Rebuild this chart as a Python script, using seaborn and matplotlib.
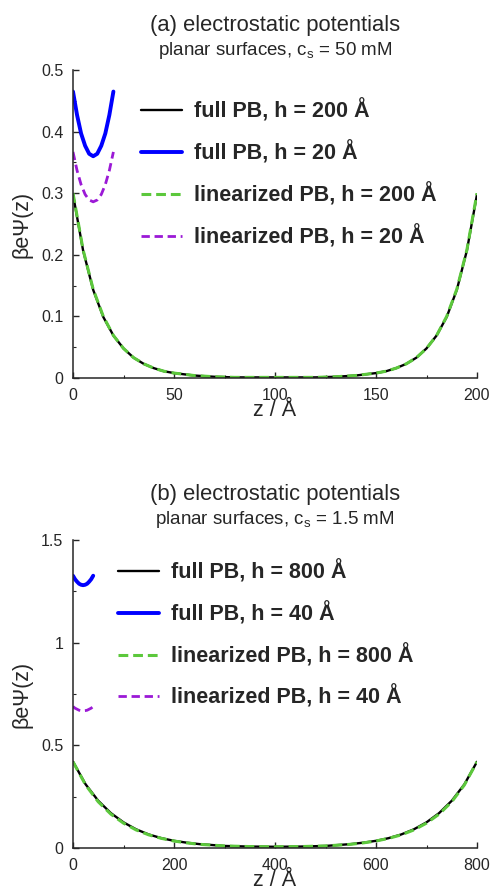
import numpy as np
import pandas as pd
import matplotlib
matplotlib.use("Agg")
import matplotlib.pyplot as plt
import seaborn as sns

# (a) 50 mM
z_a200 = [0, 5, 10, 15, 20, 25, 30, 35, 40, 45, 50, 60, 70, 80, 90, 100,
          110, 120, 130, 140, 150, 155, 160, 165, 170, 175, 180, 185, 190, 195, 200]
full_a200 = [0.298, 0.207, 0.143, 0.099, 0.069, 0.048, 0.033, 0.023, 0.016, 0.011, 0.008,
             0.004, 0.002, 0.001, 0.001, 0.001, 0.001, 0.001, 0.002, 0.004, 0.008,
             0.011, 0.016, 0.023, 0.033, 0.048, 0.069, 0.099, 0.143, 0.207, 0.298]
lin_a200 = [0.300, 0.208, 0.144, 0.100, 0.069, 0.048, 0.033, 0.023, 0.016, 0.011, 0.008,
            0.004, 0.002, 0.001, 0.001, 0.001, 0.001, 0.001, 0.002, 0.004, 0.008,
            0.011, 0.016, 0.023, 0.033, 0.048, 0.069, 0.100, 0.144, 0.208, 0.300]
z_a20 = [0, 2, 4, 6, 8, 10, 12, 14, 16, 18, 20]
full_a20 = [0.465, 0.427, 0.397, 0.377, 0.364, 0.360, 0.364, 0.377, 0.397, 0.427, 0.465]
lin_a20 = [0.367, 0.337, 0.314, 0.298, 0.289, 0.286, 0.289, 0.298, 0.314, 0.337, 0.367]

# (b) 1.5 mM
z_b800 = [0, 25, 50, 75, 100, 125, 150, 175, 200, 225, 250, 300, 350, 400,
          450, 500, 550, 575, 600, 625, 650, 675, 700, 725, 750, 775, 800]
full_b800 = [0.420, 0.310, 0.230, 0.170, 0.125, 0.091, 0.066, 0.048, 0.035, 0.026, 0.019,
             0.010, 0.007, 0.006, 0.007, 0.010, 0.019, 0.026, 0.035, 0.048, 0.066,
             0.091, 0.125, 0.170, 0.230, 0.310, 0.420]
lin_b800 = [0.420, 0.307, 0.225, 0.165, 0.121, 0.088, 0.064, 0.047, 0.034, 0.025, 0.018,
            0.010, 0.007, 0.006, 0.007, 0.010, 0.018, 0.025, 0.034, 0.047, 0.064,
            0.088, 0.121, 0.165, 0.225, 0.307, 0.420]
z_b40 = [0, 4, 8, 12, 16, 20, 24, 28, 32, 36, 40]
full_b40 = [1.326, 1.309, 1.297, 1.287, 1.282, 1.280, 1.282, 1.287, 1.297, 1.309, 1.326]
lin_b40 = [0.689, 0.681, 0.676, 0.671, 0.669, 0.668, 0.669, 0.671, 0.676, 0.681, 0.689]

sns.set_style("ticks")
plt.rcParams["font.family"] = ["Liberation Sans", "DejaVu Sans"]

fig = plt.figure(figsize=(4.92, 8.88), dpi=100)
ax1 = fig.add_axes([73 / 492, 1 - 378 / 888, 404 / 492, 308 / 888])
ax2 = fig.add_axes([73 / 492, 1 - 848 / 888, 404 / 492, 308 / 888])

green = "#5cc83c"
purple = "#9b19d6"
leg_font = {"weight": "bold", "size": 15.5}


def draw(ax, z_big, full_big, lin_big, z_small, full_small, lin_small, hb, hs):
    sns.lineplot(x=z_big, y=full_big, ax=ax, color="black", lw=1.7, sort=False,
                 label="full PB, h = %d Å" % hb)
    sns.lineplot(x=z_small, y=full_small, ax=ax, color="#0000ff", lw=2.8, sort=False,
                 label="full PB, h = %d Å" % hs)
    sns.lineplot(x=z_big, y=lin_big, ax=ax, color=green, lw=2.2, sort=False,
                 linestyle=(0, (3.2, 1.6)),
                 label="linearized PB, h = %d Å" % hb)
    sns.lineplot(x=z_small, y=lin_small, ax=ax, color=purple, lw=2.0, sort=False,
                 linestyle=(0, (3.0, 1.7)),
                 label="linearized PB, h = %d Å" % hs)
    sns.despine(ax=ax)
    for s in ["left", "bottom"]:
        ax.spines[s].set_linewidth(1.1)
    ax.tick_params(which="major", direction="in", length=4, width=1, labelsize=11.5, pad=7)
    ax.tick_params(which="minor", direction="in", length=2.5, width=0.8)
    ax.set_ylabel("βeΨ(z)", fontsize=15.5, labelpad=6)
    ax.set_xlabel("z / Å", fontsize=15.5, labelpad=-2)


# panel a
draw(ax1, z_a200, full_a200, lin_a200, z_a20, full_a20, lin_a20, 200, 20)
ax1.set_xlim(0, 200)
ax1.set_ylim(0, 0.5)
ax1.set_xticks([0, 50, 100, 150, 200])
ax1.set_xticks([25, 75, 125, 175], minor=True)
ax1.set_yticks([0, 0.1, 0.2, 0.3, 0.4, 0.5])
ax1.set_yticklabels(["0", "0.1", "0.2", "0.3", "0.4", "0.5"])
ax1.set_yticks(np.arange(0.05, 0.5, 0.1), minor=True)
ax1.legend(loc="upper left", bbox_to_anchor=(0.168, 0.905), frameon=False,
           prop=leg_font, handlelength=1.9,
           handletextpad=0.55, labelspacing=0.85, borderpad=0, borderaxespad=0)
ax1.text(0.5, 1 + 45 / 308, "(a) electrostatic potentials", transform=ax1.transAxes,
         ha="center", va="center", fontsize=15.8)
ax1.text(0.5, 1 + 19 / 308, "planar surfaces, c$_\\mathregular{s}$ = 50 mM",
         transform=ax1.transAxes, ha="center", va="center", fontsize=13.5)

# panel b
draw(ax2, z_b800, full_b800, lin_b800, z_b40, full_b40, lin_b40, 800, 40)
ax2.set_xlim(0, 800)
ax2.set_ylim(0, 1.5)
ax2.set_xticks([0, 200, 400, 600, 800])
ax2.set_xticks([100, 300, 500, 700], minor=True)
ax2.set_yticks([0, 0.5, 1, 1.5])
ax2.set_yticklabels(["0", "0.5", "1", "1.5"])
ax2.set_yticks([0.25, 0.75, 1.25], minor=True)
ax2.legend(loc="upper left", bbox_to_anchor=(0.111, 0.935), frameon=False,
           prop=leg_font, handlelength=1.9,
           handletextpad=0.55, labelspacing=0.85, borderpad=0, borderaxespad=0)
ax2.text(0.5, 1 + 46 / 308, "(b) electrostatic potentials", transform=ax2.transAxes,
         ha="center", va="center", fontsize=15.8)
ax2.text(0.5, 1 + 20 / 308, "planar surfaces, c$_\\mathregular{s}$ = 1.5 mM",
         transform=ax2.transAxes, ha="center", va="center", fontsize=13.5)

fig.savefig("out.png", dpi=100)
